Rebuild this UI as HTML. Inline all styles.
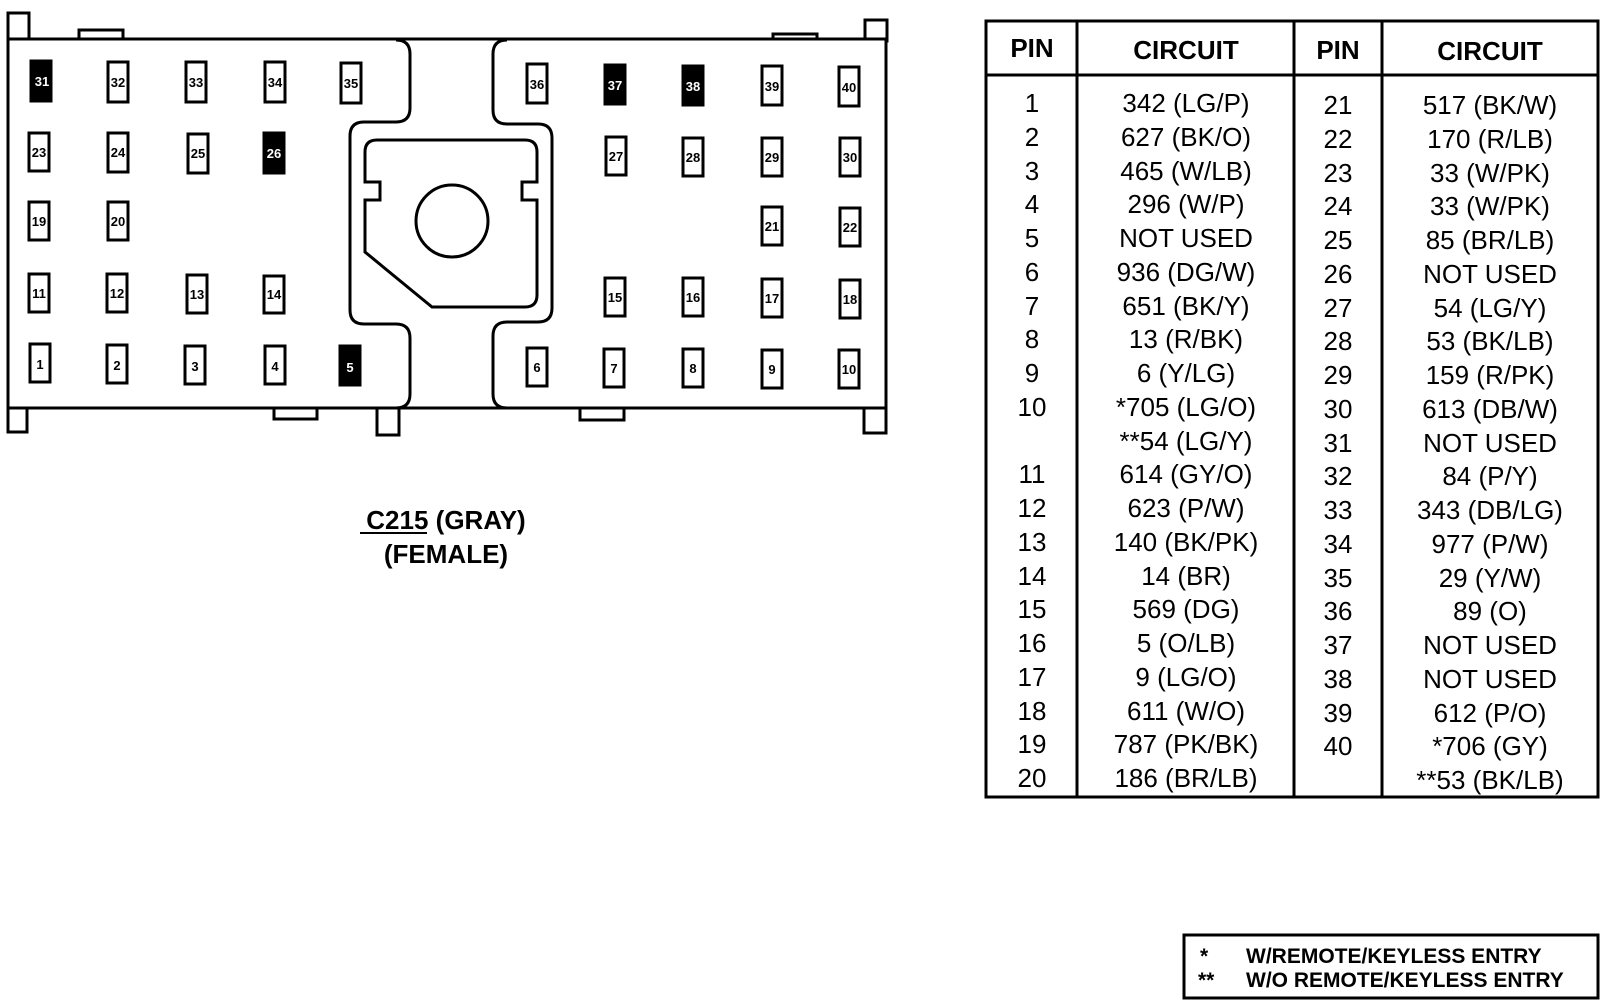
<!DOCTYPE html>
<html><head><meta charset="utf-8"><style>
html,body{margin:0;padding:0;background:#fff;}
svg{display:block;}
text{font-family:"Liberation Sans",Arial,sans-serif;fill:#000;}
.pl{font-size:13px;font-weight:bold;text-anchor:middle;}
.t{font-size:26px;text-anchor:middle;}
.h{font-size:26px;font-weight:bold;text-anchor:middle;}
</style></head><body>
<svg width="1606" height="1008" viewBox="0 0 1606 1008" xmlns="http://www.w3.org/2000/svg">
<g fill="#fff" stroke="#000" stroke-width="3">
 <rect x="8" y="13" width="21" height="26"/>
 <rect x="79" y="30" width="44" height="10"/>
 <rect x="773" y="34" width="44" height="7"/>
 <rect x="865" y="20" width="22" height="21"/>
 <rect x="8" y="408" width="19" height="24"/>
 <rect x="274" y="408" width="43" height="11"/>
 <rect x="377" y="408" width="22" height="27"/>
 <rect x="580" y="408" width="44" height="12"/>
 <rect x="864" y="408" width="22" height="25"/>
 <rect x="8" y="39" width="878" height="369"/>
</g>
<g fill="none" stroke="#000" stroke-width="3">
 <path d="M396,40 Q410,40 410,54 L410,108 Q410,122 396,122 L364,122 Q350,122 350,136 L350,310 Q350,324 364,324 L396,324 Q410,324 410,338 L410,394 Q410,408 396,408"/>
 <path d="M507,40 Q493,40 493,54 L493,110 Q493,124 507,124 L538,124 Q552,124 552,138 L552,308 Q552,322 538,322 L507,322 Q493,322 493,336 L493,394 Q493,408 507,408"/>
 <path d="M377,140 L525,140 Q537,140 537,152 L537,182 L522,182 L522,200 L537,200 L537,295 Q537,307 525,307 L432,307 L365,252 L365,200 L380,200 L380,182 L365,182 L365,152 Q365,140 377,140 Z"/>
 <circle cx="452" cy="221" r="36"/>
</g>
<g stroke="#000" stroke-width="3">
 <rect x="31" y="61" width="20" height="40" fill="#000"/>
 <rect x="108" y="62" width="20" height="40" fill="#fff"/>
 <rect x="186" y="62" width="20" height="40" fill="#fff"/>
 <rect x="265" y="62" width="20" height="40" fill="#fff"/>
 <rect x="341" y="63" width="20" height="40" fill="#fff"/>
 <rect x="29" y="133" width="20" height="38" fill="#fff"/>
 <rect x="108" y="133" width="20" height="39" fill="#fff"/>
 <rect x="188" y="134" width="20" height="39" fill="#fff"/>
 <rect x="264" y="133" width="20" height="40" fill="#000"/>
 <rect x="29" y="202" width="20" height="38" fill="#fff"/>
 <rect x="108" y="202" width="20" height="38" fill="#fff"/>
 <rect x="29" y="274" width="20" height="38" fill="#fff"/>
 <rect x="107" y="274" width="20" height="38" fill="#fff"/>
 <rect x="187" y="275" width="20" height="38" fill="#fff"/>
 <rect x="264" y="276" width="20" height="37" fill="#fff"/>
 <rect x="30" y="344" width="20" height="38" fill="#fff"/>
 <rect x="107" y="345" width="20" height="38" fill="#fff"/>
 <rect x="185" y="346" width="20" height="38" fill="#fff"/>
 <rect x="265" y="346" width="20" height="38" fill="#fff"/>
 <rect x="340" y="346" width="20" height="39" fill="#000"/>
 <rect x="527" y="64" width="20" height="39" fill="#fff"/>
 <rect x="605" y="65" width="20" height="39" fill="#000"/>
 <rect x="683" y="66" width="20" height="39" fill="#000"/>
 <rect x="762" y="66" width="20" height="39" fill="#fff"/>
 <rect x="839" y="67" width="20" height="39" fill="#fff"/>
 <rect x="606" y="137" width="20" height="38" fill="#fff"/>
 <rect x="683" y="138" width="20" height="38" fill="#fff"/>
 <rect x="762" y="138" width="20" height="38" fill="#fff"/>
 <rect x="840" y="138" width="20" height="38" fill="#fff"/>
 <rect x="762" y="207" width="20" height="38" fill="#fff"/>
 <rect x="840" y="208" width="20" height="38" fill="#fff"/>
 <rect x="605" y="278" width="20" height="38" fill="#fff"/>
 <rect x="683" y="278" width="20" height="38" fill="#fff"/>
 <rect x="762" y="279" width="20" height="38" fill="#fff"/>
 <rect x="840" y="280" width="20" height="38" fill="#fff"/>
 <rect x="527" y="348" width="20" height="38" fill="#fff"/>
 <rect x="604" y="349" width="20" height="38" fill="#fff"/>
 <rect x="683" y="349" width="20" height="38" fill="#fff"/>
 <rect x="762" y="350" width="20" height="38" fill="#fff"/>
 <rect x="839" y="350" width="20" height="38" fill="#fff"/>
</g>
<g class="pl">
 <text x="42" y="86" style="fill:#fff">31</text>
 <text x="118" y="87">32</text><text x="196" y="87">33</text><text x="275" y="87">34</text><text x="351" y="88">35</text>
 <text x="39" y="157">23</text><text x="118" y="157">24</text><text x="198" y="158">25</text>
 <text x="274" y="158" style="fill:#fff">26</text>
 <text x="39" y="226">19</text><text x="118" y="226">20</text>
 <text x="39" y="298">11</text><text x="117" y="298">12</text><text x="197" y="299">13</text><text x="274" y="299">14</text>
 <text x="40" y="369">1</text><text x="117" y="370">2</text><text x="195" y="371">3</text><text x="275" y="371">4</text>
 <text x="350" y="372" style="fill:#fff">5</text>
 <text x="537" y="89">36</text><text x="615" y="90" style="fill:#fff">37</text><text x="693" y="91" style="fill:#fff">38</text>
 <text x="772" y="91">39</text><text x="849" y="92">40</text>
 <text x="616" y="161">27</text><text x="693" y="162">28</text><text x="772" y="162">29</text><text x="850" y="162">30</text>
 <text x="772" y="231">21</text><text x="850" y="232">22</text>
 <text x="615" y="302">15</text><text x="693" y="302">16</text><text x="772" y="303">17</text><text x="850" y="304">18</text>
 <text x="537" y="372">6</text><text x="614" y="373">7</text><text x="693" y="373">8</text><text x="772" y="374">9</text><text x="849" y="374">10</text>
</g>
<text x="446" y="529" style="font-size:26px;font-weight:bold;text-anchor:middle">C215 (GRAY)</text>
<line x1="360" y1="533" x2="427" y2="533" stroke="#000" stroke-width="2"/>
<text x="446" y="563" style="font-size:26px;font-weight:bold;text-anchor:middle">(FEMALE)</text>
<g fill="none" stroke="#000" stroke-width="3">
 <rect x="986" y="21" width="612" height="776"/>
 <line x1="986" y1="75" x2="1598" y2="75"/>
 <line x1="1077" y1="21" x2="1077" y2="797"/>
 <line x1="1294" y1="21" x2="1294" y2="797"/>
 <line x1="1382" y1="21" x2="1382" y2="797"/>
</g>
<text class="h" x="1032" y="57">PIN</text>
<text class="h" x="1186" y="59">CIRCUIT</text>
<text class="h" x="1338" y="59">PIN</text>
<text class="h" x="1490" y="60">CIRCUIT</text>
<g class="t">
<text x="1032" y="112">1</text><text x="1186" y="112">342 (LG/P)</text>
<text x="1032" y="146">2</text><text x="1186" y="146">627 (BK/O)</text>
<text x="1032" y="180">3</text><text x="1186" y="180">465 (W/LB)</text>
<text x="1032" y="213">4</text><text x="1186" y="213">296 (W/P)</text>
<text x="1032" y="247">5</text><text x="1186" y="247">NOT USED</text>
<text x="1032" y="281">6</text><text x="1186" y="281">936 (DG/W)</text>
<text x="1032" y="315">7</text><text x="1186" y="315">651 (BK/Y)</text>
<text x="1032" y="348">8</text><text x="1186" y="348">13 (R/BK)</text>
<text x="1032" y="382">9</text><text x="1186" y="382">6 (Y/LG)</text>
<text x="1032" y="416">10</text><text x="1186" y="416">*705 (LG/O)</text>
<text x="1186" y="450">**54 (LG/Y)</text>
<text x="1032" y="483">11</text><text x="1186" y="483">614 (GY/O)</text>
<text x="1032" y="517">12</text><text x="1186" y="517">623 (P/W)</text>
<text x="1032" y="551">13</text><text x="1186" y="551">140 (BK/PK)</text>
<text x="1032" y="585">14</text><text x="1186" y="585">14 (BR)</text>
<text x="1032" y="618">15</text><text x="1186" y="618">569 (DG)</text>
<text x="1032" y="652">16</text><text x="1186" y="652">5 (O/LB)</text>
<text x="1032" y="686">17</text><text x="1186" y="686">9 (LG/O)</text>
<text x="1032" y="720">18</text><text x="1186" y="720">611 (W/O)</text>
<text x="1032" y="753">19</text><text x="1186" y="753">787 (PK/BK)</text>
<text x="1032" y="787">20</text><text x="1186" y="787">186 (BR/LB)</text>

<text x="1338" y="114">21</text><text x="1490" y="114">517 (BK/W)</text>
<text x="1338" y="148">22</text><text x="1490" y="148">170 (R/LB)</text>
<text x="1338" y="182">23</text><text x="1490" y="182">33 (W/PK)</text>
<text x="1338" y="215">24</text><text x="1490" y="215">33 (W/PK)</text>
<text x="1338" y="249">25</text><text x="1490" y="249">85 (BR/LB)</text>
<text x="1338" y="283">26</text><text x="1490" y="283">NOT USED</text>
<text x="1338" y="317">27</text><text x="1490" y="317">54 (LG/Y)</text>
<text x="1338" y="350">28</text><text x="1490" y="350">53 (BK/LB)</text>
<text x="1338" y="384">29</text><text x="1490" y="384">159 (R/PK)</text>
<text x="1338" y="418">30</text><text x="1490" y="418">613 (DB/W)</text>
<text x="1338" y="452">31</text><text x="1490" y="452">NOT USED</text>
<text x="1338" y="485">32</text><text x="1490" y="485">84 (P/Y)</text>
<text x="1338" y="519">33</text><text x="1490" y="519">343 (DB/LG)</text>
<text x="1338" y="553">34</text><text x="1490" y="553">977 (P/W)</text>
<text x="1338" y="587">35</text><text x="1490" y="587">29 (Y/W)</text>
<text x="1338" y="620">36</text><text x="1490" y="620">89 (O)</text>
<text x="1338" y="654">37</text><text x="1490" y="654">NOT USED</text>
<text x="1338" y="688">38</text><text x="1490" y="688">NOT USED</text>
<text x="1338" y="722">39</text><text x="1490" y="722">612 (P/O)</text>
<text x="1338" y="755">40</text><text x="1490" y="755">*706 (GY)</text>
<text x="1490" y="789">**53 (BK/LB)</text>
</g>
<rect x="1184" y="935" width="414" height="63" fill="none" stroke="#000" stroke-width="3"/>
<g style="font-size:21px;font-weight:bold">
<text x="1200" y="963">*</text><text x="1246" y="963">W/REMOTE/KEYLESS ENTRY</text>
<text x="1198" y="987">**</text><text x="1246" y="987">W/O REMOTE/KEYLESS ENTRY</text>
</g>
</svg>
</body></html>
